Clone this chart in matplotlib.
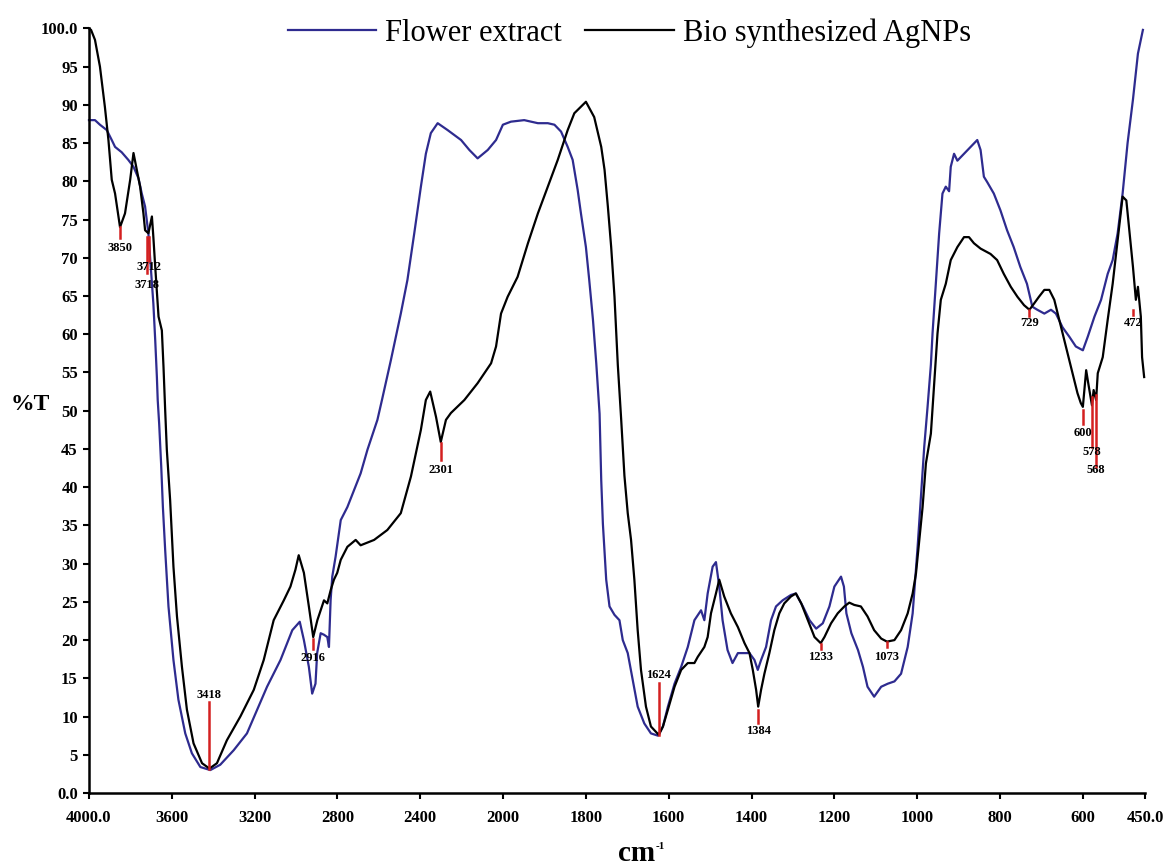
import numpy as np
import matplotlib
matplotlib.use("Agg")
import matplotlib.pyplot as plt

# FTIR spectra, wavenumber (cm-1) and %T
flower_wn = [4000, 3971, 3947, 3914, 3890, 3874, 3842, 3810, 3785, 3761, 3745, 3729, 3713, 3705,
             3696, 3689, 3680, 3672, 3668, 3661, 3651, 3643, 3632, 3616, 3592, 3568, 3535, 3503,
             3462, 3414, 3366, 3301, 3237, 3188, 3140, 3075, 3018, 2982, 2962, 2938, 2922, 2906,
             2898, 2881, 2865, 2849, 2841, 2833, 2825, 2809, 2784, 2752, 2720, 2688, 2655, 2607,
             2585, 2542, 2494, 2462, 2429, 2397, 2373, 2349, 2316, 2268, 2203, 2163, 2123, 2074,
             2034, 2001, 1981, 1949, 1916, 1892, 1876, 1860, 1844, 1832, 1820, 1812, 1800, 1792,
             1783, 1775, 1767, 1763, 1759, 1751, 1743, 1731, 1719, 1711, 1699, 1687, 1675, 1659,
             1643, 1626, 1614, 1602, 1586, 1570, 1554, 1538, 1522, 1514, 1506, 1494, 1486, 1478,
             1470, 1458, 1446, 1433, 1405, 1393, 1385, 1377, 1365, 1353, 1341, 1325, 1305, 1293,
             1276, 1260, 1244, 1228, 1212, 1200, 1184, 1177, 1171, 1159, 1143, 1131, 1120, 1104,
             1087, 1071, 1055, 1039, 1023, 1011, 999, 991, 983, 975, 967, 963, 955, 947, 939, 931,
             923, 919, 911, 903, 887, 871, 855, 847, 839, 831, 815, 799, 783, 767, 751, 735, 722,
             710, 693, 677, 665, 649, 633, 617, 600, 588, 572, 556, 540, 528, 516, 504, 492, 479,
             467, 455]
flower_t = [88.0, 88.0, 87.4, 86.7, 85.4, 84.5, 83.8, 82.8, 81.9, 80.4, 78.4, 76.7, 73.2, 70.1,
            66.6, 64.0, 59.2, 54.4, 51.4, 48.3, 42.7, 37.4, 31.8, 24.4, 17.4, 12.2, 7.8, 5.2,
            3.4, 3.0, 3.7, 5.6, 7.8, 10.9, 13.9, 17.4, 21.3, 22.4, 20.0, 16.5, 13.0, 14.3,
            18.3, 20.9, 20.7, 20.4, 19.1, 25.2, 28.3, 30.9, 35.7, 37.4, 39.6, 41.8, 44.9, 48.8,
            51.4, 56.6, 62.7, 67.1, 73.2, 79.3, 83.6, 86.3, 87.6, 86.7, 85.4, 84.1, 83.0, 84.1,
            85.4, 87.4, 87.8, 88.0, 87.6, 87.6, 87.4, 86.5, 84.5, 82.8, 78.9, 75.8, 71.4, 67.1,
            61.9, 56.2, 49.6, 40.9, 35.2, 27.9, 24.4, 23.3, 22.6, 20.0, 18.3, 14.8, 11.3, 9.1,
            7.8, 7.5, 8.7, 11.3, 14.3, 16.5, 19.1, 22.6, 23.9, 22.6, 26.1, 29.6, 30.2, 27.0,
            22.6, 18.7, 17.0, 18.3, 18.3, 17.4, 16.1, 17.4, 19.1, 22.6, 24.4, 25.2, 25.9, 26.1,
            24.4, 22.6, 21.5, 22.2, 24.4, 27.0, 28.3, 27.0, 23.5, 20.9, 18.7, 16.5, 13.9, 12.6,
            13.9, 14.3, 14.6, 15.6, 19.1, 23.5, 32.2, 38.7, 45.3, 50.5, 56.0, 60.1, 66.6, 73.2, 78.4, 79.3,
            78.7, 81.9, 83.6, 82.7, 83.6, 84.5, 85.4, 84.1, 80.6, 79.9, 78.4, 76.2, 73.6, 71.4, 68.8, 66.6, 63.6,
            63.2, 62.7, 63.2, 62.7, 60.9, 59.7, 58.4, 57.9, 59.7, 62.3, 64.5, 67.9, 69.7, 73.2, 78.4, 85.0, 90.7,
            96.7, 99.8]

agnp_wn = [4000, 3990, 3971, 3947, 3923, 3906, 3890, 3874, 3850, 3826, 3801, 3785, 3769, 3753,
           3737, 3729, 3713, 3696, 3689, 3680, 3664, 3648, 3640, 3632, 3624, 3608, 3592, 3575,
           3551, 3527, 3495, 3454, 3418, 3382, 3334, 3269, 3204, 3156, 3108, 3059, 3027, 3003,
           2987, 2962, 2938, 2917, 2897, 2881, 2865, 2849, 2833, 2817, 2801, 2784, 2752, 2712,
           2688, 2623, 2559, 2494, 2445, 2397, 2373, 2352, 2324, 2301, 2276, 2252, 2187, 2123,
           2058, 2034, 2010, 1989, 1965, 1940, 1916, 1892, 1868, 1844, 1828, 1800, 1780, 1763,
           1755, 1747, 1739, 1731, 1723, 1715, 1707, 1699, 1691, 1683, 1675, 1667, 1655, 1643,
           1624, 1614, 1602, 1586, 1570, 1554, 1538, 1530, 1514, 1506, 1498, 1486, 1478, 1466,
           1450, 1433, 1417, 1405, 1397, 1389, 1384, 1377, 1369, 1357, 1345, 1333, 1321, 1305,
           1293, 1280, 1264, 1248, 1233, 1224, 1208, 1192, 1176, 1164, 1152, 1136, 1120, 1104,
           1087, 1073, 1055, 1039, 1023, 1011, 1003, 995, 987, 979, 967, 959, 951, 943, 931, 919,
           903, 887, 875, 863, 847, 823, 807, 791, 774, 758, 742, 729, 718, 706, 693, 681, 669,
           657, 641, 625, 613, 605, 600, 592, 587, 578, 574, 568, 564, 552, 540, 528, 516, 504,
           495, 487, 479, 472, 467, 460, 457, 452]
agnp_t = [100.0, 99.8, 98.5, 95.0, 89.7, 85.4, 80.2, 78.4, 74.0, 75.8, 80.2, 83.7, 81.5, 79.3,
          75.8, 73.6, 73.2, 75.4, 72.7, 68.8, 62.3, 60.5, 55.7, 50.1, 44.9, 38.3, 29.6, 23.1,
          16.5, 10.9, 6.5, 3.9, 3.2, 3.9, 6.9, 10.0, 13.5, 17.4, 22.6, 25.2, 27.0, 29.2,
          31.1, 28.8, 24.4, 20.4, 22.6, 23.9, 25.2, 24.8, 26.5, 27.9, 28.8, 30.5, 32.2, 33.1,
          32.4, 33.1, 34.4, 36.6, 41.4, 47.5, 51.4, 52.5, 49.2, 45.9, 48.8, 49.7, 51.4, 53.6,
          56.2, 58.4, 62.7, 64.9, 67.5, 71.9, 75.8, 79.3, 82.8, 86.7, 88.9, 90.4, 88.4, 84.5,
          81.5, 76.7, 71.4, 64.9, 56.0, 49.0, 41.5, 36.6, 33.1, 27.9, 21.3, 16.1, 11.3, 8.7,
          7.6, 8.7, 10.9, 13.9, 16.1, 17.0, 17.0, 17.8, 19.1, 20.4, 23.5, 26.1, 27.9, 25.7,
          23.5, 21.7, 19.6, 18.3, 16.1, 13.5, 11.3, 13.5, 15.6, 18.3, 21.3, 23.5, 24.8, 25.7,
          26.1, 24.8, 22.6, 20.4, 19.6, 20.4, 22.2, 23.5, 24.4, 24.9, 24.6, 24.4, 23.1, 21.3,
          20.2, 19.8, 20.0, 21.3, 23.5, 26.1, 28.7, 33.1, 37.4, 43.1, 47.0, 53.6, 60.1, 64.5, 66.6, 69.7,
          71.4, 72.7, 72.7, 71.9, 71.2, 70.5, 69.7, 67.9, 66.2, 64.9, 63.8, 63.2, 64.0, 64.9, 65.8, 65.8, 64.5,
          61.9, 58.4, 54.9, 52.3, 51.0, 50.5, 55.3, 53.6, 50.7, 52.7, 51.4, 54.9, 57.0, 61.9, 66.6, 72.3, 78.0,
          77.5, 73.2, 68.8, 64.5, 66.2, 62.3, 57.0, 54.4]

# marked peaks: label, position, top/bottom of red marker, label height
peak_names = ["3850", "3712", "3718", "3418", "2916", "2301", "1624", "1384", "1233", "1073",
              "729", "600", "578", "568", "472"]
peak_wn = [3850, 3712, 3718, 3418, 2916, 2301, 1624, 1384, 1233, 1073, 729, 600, 578, 568, 478]
peak_top = [74.0, 72.7, 72.7, 3.2, 20.2, 45.8, 7.6, 10.9, 19.5, 19.7, 63.2, 50.1, 51.8, 52.0, 63.2]
peak_bot = [72.6, 69.6, 68.0, 11.9, 18.9, 43.6, 14.4, 9.2, 18.9, 19.1, 62.4, 48.2, 45.2, 42.6, 62.5]
peak_lab = [71.3, 68.8, 66.4, 12.8, 17.6, 42.2, 15.4, 8.1, 17.8, 17.8, 61.5, 47.1, 44.6, 42.2, 61.5]

xticks = [4000, 3600, 3200, 2800, 2400, 2000, 1800, 1600, 1400, 1200, 1000, 800, 600, 450]
xticklabels = ["4000.0", "3600", "3200", "2800", "2400", "2000", "1800", "1600", "1400",
               "1200", "1000", "800", "600", "450.0"]
yticks = list(range(0, 101, 5))
yticklabels = ["0.0"] + [str(v) for v in yticks[1:-1]] + ["100.0"]


# wavenumber axis is compressed by half above 2000 cm-1
def fwd(w):
    w = np.asarray(w, dtype=float)
    return np.where(w > 2000, 2000 + (w - 2000) / 2.0, w)


def inv(u):
    u = np.asarray(u, dtype=float)
    return np.where(u > 2000, 2000 + (u - 2000) * 2.0, u)


plt.rcParams['font.family'] = ['Liberation Serif', 'DejaVu Serif']

fig = plt.figure(figsize=(11.63, 8.65), dpi=100)
ax = fig.add_axes([0.0765, 0.0832, 0.908, 0.884])
ax.set_xscale('function', functions=(fwd, inv))

ax.plot(flower_wn, flower_t, color='#2e2b8f', lw=1.6, label='Flower extract', clip_on=False)
ax.plot(agnp_wn, agnp_t, color='black', lw=1.6, label='Bio synthesized AgNPs', clip_on=False)

for name, w, t0, t1, tl in zip(peak_names, peak_wn, peak_top, peak_bot, peak_lab):
    ax.plot([w, w], [t0, t1], color='#d42020', lw=1.8)
    ax.text(w, tl, name, ha='center', va='center', fontsize=9, fontweight='bold')

ax.set_xlim(4000, 450)
ax.set_ylim(0, 100)
ax.set_xticks(xticks)
ax.set_xticklabels(xticklabels)
ax.set_yticks(yticks)
ax.set_yticklabels(yticklabels)
ax.minorticks_off()

for lab in ax.get_xticklabels() + ax.get_yticklabels():
    lab.set_fontweight('bold')
    lab.set_fontsize(12)

ax.tick_params(axis='both', direction='out', length=4, width=1.5)
ax.tick_params(axis='x', pad=8)
ax.tick_params(axis='y', pad=4)
ax.spines['top'].set_visible(False)
ax.spines['right'].set_visible(False)
ax.spines['left'].set_linewidth(1.8)
ax.spines['bottom'].set_linewidth(1.8)

fig.text(0.026, 0.532, '%T', fontsize=17, fontweight='bold', ha='center', va='center')
fig.text(0.547, 0.005, 'cm', fontsize=21, fontweight='bold', ha='center', va='baseline')
fig.text(0.564, 0.019, '-1', fontsize=8, fontweight='bold', ha='left', va='baseline')

ax.legend(loc='center', bbox_to_anchor=(0.541, 0.962), bbox_transform=fig.transFigure,
          ncol=2, frameon=False, fontsize=22, handlelength=2.9, handletextpad=0.3,
          columnspacing=0.75)

fig.savefig('out.png', dpi=100)
